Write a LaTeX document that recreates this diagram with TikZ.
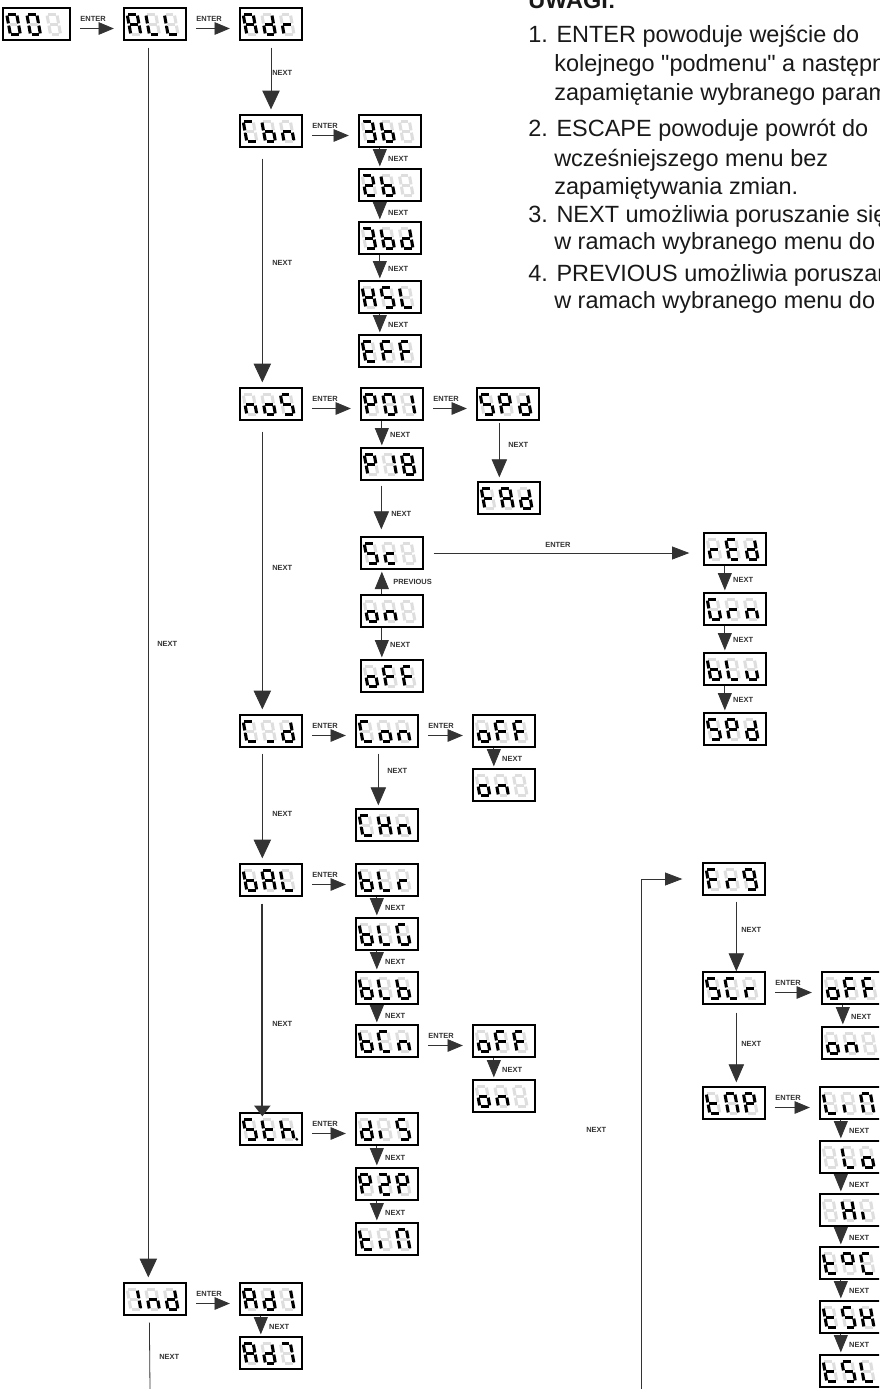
\documentclass[tikz,border=0pt]{standalone}
\usepackage{fontspec}
\setmainfont{Liberation Sans}
\newfontfamily\notefont{Liberation Sans}[Ligatures=TeXOff]
\usetikzlibrary{arrows.meta,calc}
\makeatletter
\newcommand\drawseg[3]{\in@{#1}{#2}\ifin@\draw[seglit]#3;\else\draw[segoff]#3;\fi}
\newcommand\segdigit[3]{%
  \begin{scope}[shift={(#1,#2)},yscale=-1,xslant=0.18]
  \drawseg{a}{#3}{(1.1,20)--(8.9,20)}
  \drawseg{b}{#3}{(10,18.9)--(10,11.1)}
  \drawseg{c}{#3}{(10,8.9)--(10,1.1)}
  \drawseg{d}{#3}{(1.1,0)--(8.9,0)}
  \drawseg{e}{#3}{(0,1.1)--(0,8.9)}
  \drawseg{f}{#3}{(0,11.1)--(0,18.9)}
  \drawseg{g}{#3}{(1.1,10)--(8.9,10)}
  \in@{p}{#3}\ifin@\fill[black](12.8,0.3) circle[radius=1.6];\fi
  \end{scope}}
\makeatother
\newcommand\dispw[7]{%
  \pgfmathsetmacro\dcx{#2+#4/2}\pgfmathsetmacro\dcy{#3+16}\pgfmathsetmacro\dw{#4*0.75}%
  \node[dbox,minimum width=\dw pt] (#1) at (\dcx,\dcy) {};
  \pgfmathsetmacro\dxa{#2+0.11*#4}\pgfmathsetmacro\dxb{\dxa+0.3*#4}%
  \pgfmathsetmacro\dxc{\dxb+0.3*#4}\pgfmathsetmacro\dyy{#3+26.5}%
  \segdigit{\dxa}{\dyy}{#5}\segdigit{\dxb}{\dyy}{#6}\segdigit{\dxc}{\dyy}{#7}}
\newcommand\disp[6]{\dispw{#1}{#2}{#3}{62}{#4}{#5}{#6}}
\newcommand\enter[2]{%
  \draw[enterarr] ($(#1.east)+(9.5,4.5)$) -- ($(#2.west)+(-9.5,4.5)$);
  \node[lbl,anchor=west] (e#1) at ($(#1.east)+(9.5,-5)$) {ENTER};}
\newcommand\stack[2]{%
  \draw[stackarr] ($(#1.south west)+(21.5,0)$) -- ($(#2.north west)+(21.5,0)$)
     node[lbl,pos=0.5,anchor=west,xshift=6pt,yshift=-0.75pt] {NEXT};}
\begin{document}
\begin{tikzpicture}[x=0.75pt,y=-0.75pt,
  dbox/.style={draw=black,line width=1pt,minimum height=24pt,inner sep=0pt},
  seglit/.style={draw=black,line width=2.3pt},
  segoff/.style={draw=black!13,line width=2.3pt},
  lbl/.style={font=\fontsize{5.6}{6}\selectfont\bfseries,text=black!80,inner sep=0pt},
  conn/.style={draw=black!80,line width=0.6pt},
  enterarr/.style={conn,-{Triangle[length=11.5pt,width=9.5pt]}},
  stackarr/.style={conn,-{Triangle[length=13pt,width=10.5pt]},shorten >=1.5pt},
  longarr/.style={conn,-{Triangle[length=13.5pt,width=11.5pt]}},
  bigarr/.style={conn,-{Triangle[length=14pt,width=13pt]}},
  harr/.style={conn,-{Triangle[length=13pt,width=9.75pt]}},
  note/.style={font=\notefont\fontsize{17.6}{20}\selectfont,anchor=base west,inner sep=0pt,text=black!90},
]
\path[use as bounding box] (0,0) rectangle (879,1389);
\clip (0,0) rectangle (879,1389);

% notes
\node[note,font=\notefont\fontsize{17.6}{20}\selectfont\bfseries] (n0) at (528,8) {UWAGI:};
\node[note] (n1) at (528,42) {1. ENTER powoduje wejście do};
\node[note] (n2) at (554,71) {kolejnego "podmenu" a następnie};
\node[note] (n3) at (554,100) {zapamiętanie wybranego parametru};
\node[note] (n4) at (528,136) {2. ESCAPE powoduje powrót do};
\node[note] (n5) at (554,166) {wcześniejszego menu bez};
\node[note] (n6) at (554,194) {zapamiętywania zmian.};
\node[note] (n7) at (528,222) {3. NEXT umożliwia poruszanie się};
\node[note] (n8) at (554,249) {w ramach wybranego menu do};
\node[note] (n9) at (528,281) {4. PREVIOUS umożliwia poruszanie się};
\node[note] (n10) at (554,308) {w ramach wybranego menu do};

% displays
\dispw{b001}{3}{8}{67}{abcdef}{abcdef}{}
\disp{bALL}{124}{8}{abcefg}{def}{def}
\disp{bAdr}{240}{8}{abcefg}{bcdeg}{eg}
\disp{bCbn}{240}{115}{adef}{cdefg}{ceg}
\disp{bthreeb}{359}{115}{abcdg}{cdefg}{}
\disp{btwob}{359}{169}{abdeg}{cdefg}{}
\disp{bthreebd}{359}{222}{abcdg}{cdefg}{bcdeg}
\disp{bHSL}{359}{281}{bcefg}{acdfg}{def}
\disp{bEFF}{359}{335}{adefg}{aefg}{aefg}
\disp{bnoS}{240}{388}{ceg}{cdeg}{acdfg}
\disp{bPO1}{361}{388}{abefg}{abcdef}{bc}
\disp{bSPda}{477}{388}{acdfg}{abefg}{bcdeg}
\disp{bFAd}{478}{482}{aefg}{abcefg}{bcdeg}
\disp{bP18}{361}{448}{abefg}{bc}{abcdefg}
\disp{bSc}{361}{537}{acdfg}{deg}{}
\disp{bona}{361}{595}{cdeg}{ceg}{}
\disp{boFFa}{361}{660}{cdeg}{aefg}{aefg}
\disp{brEd}{704}{533}{eg}{adefg}{bcdeg}
\disp{bGrn}{704}{593}{acdef}{eg}{ceg}
\disp{bbLU}{704}{653}{cdefg}{def}{cde}
\disp{bSPdb}{704}{713}{acdfg}{abefg}{bcdeg}
\disp{bCd}{240}{715}{adef}{d}{bcdeg}
\disp{bCon}{356}{715}{adef}{cdeg}{ceg}
\disp{boFFb}{473}{715}{cdeg}{aefg}{aefg}
\disp{bonb}{473}{769}{cdeg}{ceg}{}
\disp{bCHn}{356}{809}{adef}{bcefg}{ceg}
\disp{bbAL}{240}{864}{cdefg}{abcefg}{def}
\disp{bbLr}{356}{864}{cdefg}{def}{eg}
\disp{bbLG}{356}{918}{cdefg}{def}{acdef}
\disp{bbLb}{356}{972}{cdefg}{def}{cdefg}
\disp{bbCn}{356}{1025}{cdefg}{adef}{ceg}
\disp{boFFc}{473}{1025}{cdeg}{aefg}{aefg}
\disp{bonc}{473}{1080}{cdeg}{ceg}{}
\disp{bSth}{240}{1113}{acdfg}{defg}{cefgp}
\disp{bdiS}{356}{1113}{bcdeg}{e}{acdfg}
\disp{bPtwoP}{356}{1168}{abefg}{abdeg}{abefg}
\disp{btin}{356}{1223}{defg}{e}{abcef}
\disp{bInd}{124}{1283}{bc}{ceg}{bcdeg}
\disp{bAdone}{240}{1283}{abcefg}{bcdeg}{bc}
\disp{bAdseven}{240}{1337}{abcefg}{bcdeg}{abc}
\disp{bFr9}{703}{863}{aefg}{eg}{abcdfg}
\disp{bSCr}{703}{972}{acdfg}{adef}{eg}
\disp{btnP}{703}{1087}{defg}{abcef}{abefg}
\disp{boFFd}{822}{972}{cdeg}{aefg}{aefg}
\disp{bond}{822}{1027}{cdeg}{ceg}{}
\disp{bLin}{820}{1087}{def}{e}{abcef}
\disp{bLo}{820}{1141}{}{def}{cdeg}
\disp{bHi}{820}{1194}{}{bcefg}{e}
\disp{btPC}{820}{1247}{defg}{abfg}{adef}
\disp{btSH}{820}{1301}{defg}{acdfg}{bcefg}
\disp{btSL}{820}{1355}{defg}{acdfg}{def}

% ENTER arrows
\enter{b001}{bALL}
\enter{bALL}{bAdr}
\enter{bCbn}{bthreeb}
\enter{bnoS}{bPO1}
\enter{bPO1}{bSPda}
\enter{bCd}{bCon}
\enter{bCon}{boFFb}
\enter{bbAL}{bbLr}
\enter{bbCn}{boFFc}
\enter{bSth}{bdiS}
\enter{bInd}{bAdone}
\enter{bSCr}{boFFd}
\enter{btnP}{bLin}

% stacked NEXT arrows
\stack{bthreeb}{btwob}
\stack{btwob}{bthreebd}
\stack{bthreebd}{bHSL}
\stack{bHSL}{bEFF}
\stack{bPO1}{bP18}
\stack{bona}{boFFa}
\stack{brEd}{bGrn}
\stack{bGrn}{bbLU}
\stack{bbLU}{bSPdb}
\stack{boFFb}{bonb}
\stack{bbLr}{bbLG}
\stack{bbLG}{bbLb}
\stack{bbLb}{bbCn}
\stack{boFFc}{bonc}
\stack{bdiS}{bPtwoP}
\stack{bPtwoP}{btin}
\stack{bAdone}{bAdseven}
\stack{boFFd}{bond}
\stack{bLin}{bLo}
\stack{bLo}{bHi}
\stack{bHi}{btPC}
\stack{btPC}{btSH}
\stack{btSH}{btSL}

% PREVIOUS
\draw[stackarr] ($(bona.north west)+(21.5,0)$) -- ($(bSc.south west)+(21.5,0)$);
\node[lbl,anchor=west] (lprev) at (393,582) {PREVIOUS};

% long NEXT arrows
\draw[bigarr,shorten <=5.25pt,shorten >=3.75pt] (bAdr.south) -- (bCbn.north);
\node[lbl,anchor=west] (l1) at (272,73) {NEXT};
\draw[bigarr,shorten <=8.25pt,shorten >=3.75pt] ($(bCbn.south west)+(23,0)$) -- ($(bnoS.north west)+(23,0)$);
\node[lbl,anchor=west] (l2) at (272,263) {NEXT};
\draw[bigarr,shorten <=8.25pt,shorten >=3.75pt] ($(bnoS.south west)+(23,0)$) -- ($(bCd.north west)+(23,0)$);
\node[lbl,anchor=west] (l3) at (272,568) {NEXT};
\draw[bigarr,shorten <=4.5pt,shorten >=3.75pt] ($(bCd.south west)+(23,0)$) -- ($(bbAL.north west)+(23,0)$);
\node[lbl,anchor=west] (l4) at (272,814) {NEXT};
\draw[conn,line width=1.4pt,-{Triangle[length=8pt,width=12pt]},shorten <=5.25pt,shorten >=-3pt] ($(bbAL.south west)+(23,0)$) -- ($(bSth.north west)+(23,0)$);
\node[lbl,anchor=west] (l5) at (272,1024) {NEXT};
\draw[longarr,shorten <=1.5pt,shorten >=3pt] ($(bSPda.south west)+(23,0)$) -- ($(bFAd.north west)+(22,0)$);
\node[lbl,anchor=west] (l6) at (508,445) {NEXT};
\draw[longarr,shorten <=4.5pt,shorten >=2.25pt] ($(bCon.south west)+(23,0)$) -- ($(bCHn.north west)+(23,0)$);
\node[lbl,anchor=west] (l7) at (387,771) {NEXT};
\draw[longarr,shorten <=3.75pt,shorten >=5.25pt] ($(bP18.south west)+(21,0)$) -- ($(bSc.north west)+(21,0)$);
\node[lbl,anchor=west] (l8) at (391,514) {NEXT};
\draw[longarr,shorten <=4.5pt,shorten >=0pt] ($(bFr9.south west)+(34,0)$) -- ($(bSCr.north west)+(34,0)$);
\node[lbl,anchor=west] (l9) at (741,930) {NEXT};
\draw[longarr,shorten <=6pt,shorten >=3pt] ($(bSCr.south west)+(34,0)$) -- ($(btnP.north west)+(34,0)$);
\node[lbl,anchor=west] (l10) at (741,1044) {NEXT};
\draw[bigarr,shorten <=5.25pt,shorten >=3.75pt] ($(bALL.south west)+(25,0)$) -- ($(bInd.north west)+(25,0)$);
\node[lbl,anchor=west] (l11) at (157,644) {NEXT};
\coordinate (indend) at (150,1389);
\draw[conn,shorten <=5.25pt] ($(bInd.south west)+(26,0)$) -- (indend);
\node[lbl,anchor=west] (l12) at (159,1357) {NEXT};
\coordinate (rstart) at (641,1389);
\draw[harr,shorten >=15pt] (rstart) |- (bFr9.west);
\node[lbl,anchor=west] (l13) at (586,1130) {NEXT};
% Sc -> rEd
\draw[harr,shorten <=7.5pt,shorten >=10.5pt] (bSc.east) -- (bSc.east -| brEd.west);
\node[lbl,anchor=west] (l14) at (545,545) {ENTER};
\end{tikzpicture}
\end{document}
